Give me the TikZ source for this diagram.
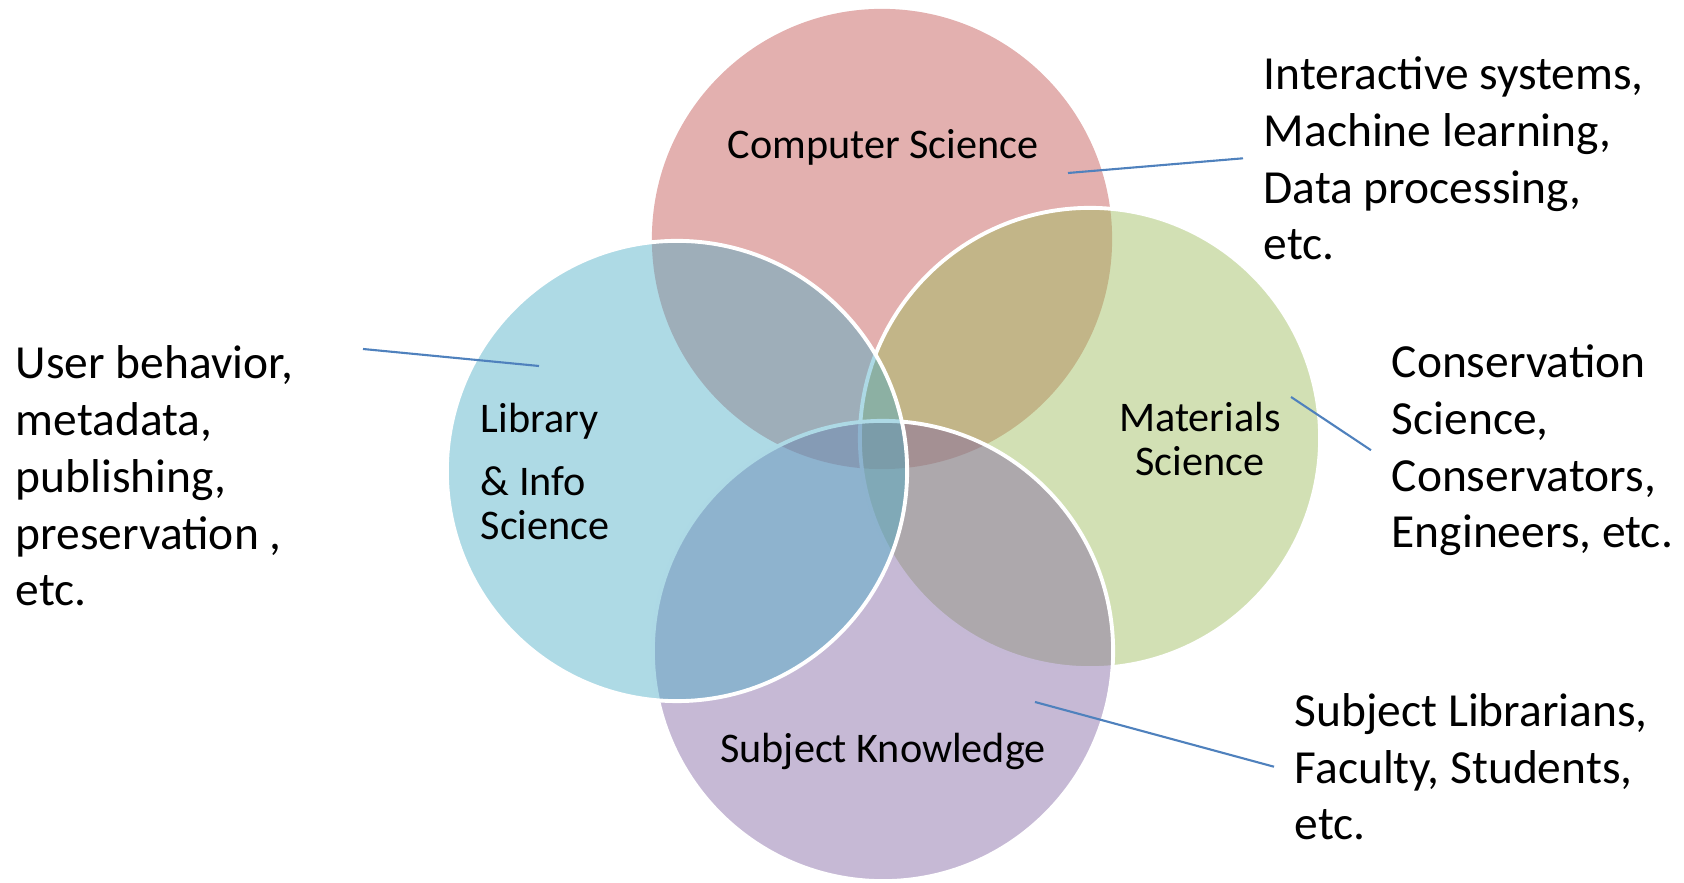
\documentclass[tikz,border=0pt]{standalone}
\usepackage{fontspec}
\setmainfont{Carlito}
\definecolor{csred}{HTML}{C0504D}
\definecolor{libblue}{HTML}{4BACC6}
\definecolor{matgreen}{HTML}{9BBB59}
\definecolor{subjpurple}{HTML}{8064A2}
\definecolor{leaderblue}{HTML}{4F81BD}
\begin{document}
\begin{tikzpicture}[x=0.01cm, y=-0.01cm,
                    field/.style = {circle, minimum size=4.6cm, inner sep=0pt, outer sep=0pt, fill opacity=0.45},
                    rim/.style = {draw=white, line width=1.1pt},
                    areatext/.style = {font=\fontsize{12}{12.6}\selectfont, inner sep=0pt},
                    notetext/.style = {font=\fontsize{13.5}{16.2}\selectfont, align=left, inner xsep=0.2cm, inner ysep=0pt},
                    leader/.style = {draw=leaderblue, line width=0.6pt}]
                  \useasboundingbox (0,0) rectangle (1684,883);
                  \node[field, fill=csred](cs) at (882,239) {};
                  \node[field, rim, fill=matgreen](ms) at (1090,438) {};
                  \node[field, rim, fill=subjpurple](sk) at (883,651) {};
                  \node[field, rim, fill=libblue](lis) at (677,471) {};
                  \node[areatext, anchor=base](cs-name) at (883,159) {Computer Science};
                  \node[areatext, align=left, anchor=base west](lis-name) at (480,540) {Library\\[5.5pt]\& Info\\Science};
                  \node[areatext, align=center, anchor=base](ms-name) at (1200,476) {Materials\\Science};
                  \node[areatext, anchor=base](sk-name) at (883,763) {Subject Knowledge};
                  \node[notetext, anchor=base west](cs-note) at (1243,260) {Interactive systems,\\Machine learning,\\Data processing,\\etc.};
                  \node[notetext, anchor=base west](lis-note) at (-5,606) {User behavior,\\metadata,\\publishing,\\preservation ,\\etc.};
                  \node[notetext, anchor=base west](ms-note) at (1371,548) {Conservation\\Science,\\Conservators,\\Engineers, etc.};
                  \node[notetext, anchor=base west](sk-note) at (1274,840) {Subject Librarians,\\Faculty, Students,\\etc.};
                  \coordinate (cs-pin) at (1068,173);
                  \coordinate (lis-pin) at (539,366);
                  \coordinate (lis-tip) at (363,349);
                  \coordinate (ms-pin) at (1291,397);
                  \coordinate (sk-pin) at (1035,702);
                  \draw[leader] (cs-pin) -- (cs-note.west);
                  \draw[leader] (lis-pin) -- (lis-tip);
                  \draw[leader] (ms-pin) -- (ms-note.west);
                  \draw[leader] (sk-pin) -- (sk-note.west);
          \end{tikzpicture}
\end{document}
